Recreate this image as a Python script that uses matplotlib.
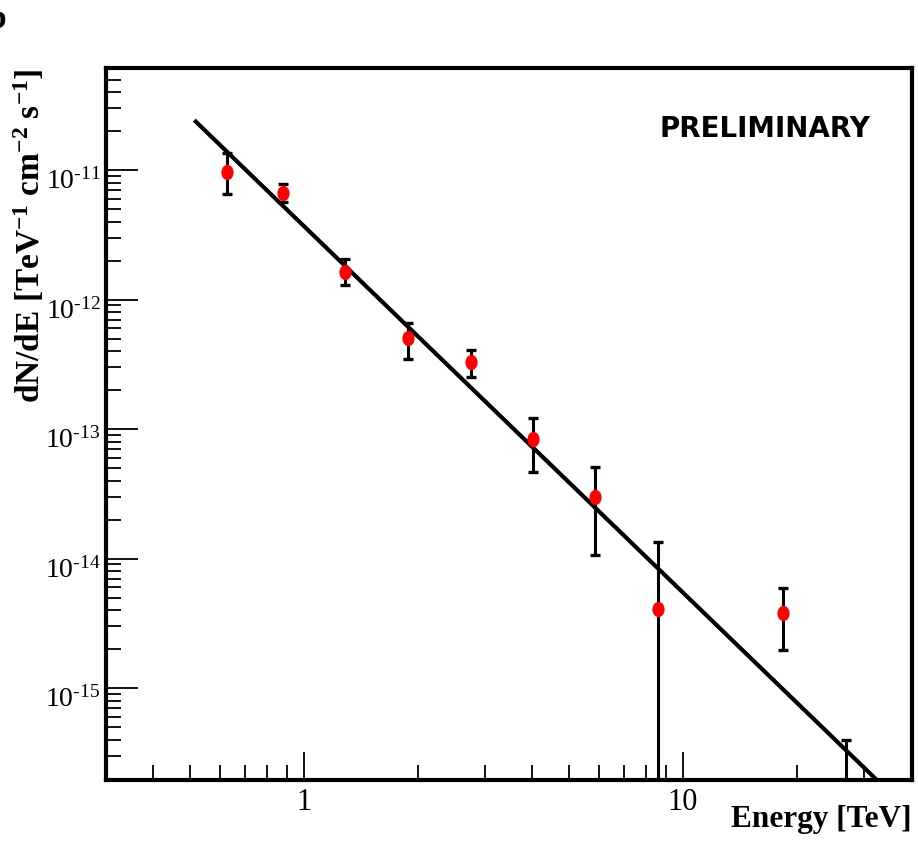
import matplotlib
matplotlib.use("Agg")
import matplotlib.pyplot as plt
import matplotlib.transforms as mtransforms
from matplotlib.path import Path
from matplotlib.ticker import FixedLocator, FixedFormatter, LogLocator, NullFormatter

# ---------------- data ----------------
energy = [0.625, 0.882, 1.283, 1.885, 2.754, 4.013, 5.86, 8.59, 18.4, 26.9]
flux = [9.70e-12, 6.61e-12, 1.64e-12, 5.06e-13, 3.30e-13, 8.38e-14, 2.98e-14, 4.11e-15, 3.83e-15, 1.5e-16]
flux_hi = [1.35e-11, 7.76e-12, 2.06e-12, 6.63e-13, 4.06e-13, 1.21e-13, 5.09e-14, 1.35e-14, 5.97e-15, 3.97e-16]
flux_lo = [6.53e-12, 5.69e-12, 1.30e-12, 3.46e-13, 2.53e-13, 4.69e-14, 1.06e-14, 1.0e-17, 1.98e-15, 1.0e-17]

fit_energy = [0.513, 40.0]
fit_flux = [2.43e-11, 1.08e-16]

xtick_values = [1, 10]
xtick_labels = ["1", "10"]
ytick_values = [1e-15, 1e-14, 1e-13, 1e-12, 1e-11]
ytick_labels = [r"$10^{\text{-15}}$", r"$10^{\text{-14}}$", r"$10^{\text{-13}}$",
                r"$10^{\text{-12}}$", r"$10^{\text{-11}}$"]

xlim = (0.3, 40.2)
ylim = (1.95e-16, 6.14e-11)

# ---------------- style ----------------
plt.rcParams["font.family"] = ["Liberation Serif", "DejaVu Serif"]
plt.rcParams["mathtext.fontset"] = "custom"
plt.rcParams["mathtext.rm"] = "Liberation Serif"
plt.rcParams["mathtext.it"] = "Liberation Serif:italic"
plt.rcParams["mathtext.bf"] = "Liberation Serif:bold"
plt.rcParams["mathtext.default"] = "regular"

fig = plt.figure(figsize=(9.18, 8.6), dpi=100)
W, H = 918, 860
ax = fig.add_axes([106 / W, 1 - 780 / H, (912 - 106) / W, (780 - 68) / H])
ax.set_xscale("log")
ax.set_yscale("log")
ax.set_xlim(*xlim)
ax.set_ylim(*ylim)

# fit line
ax.plot(fit_energy, fit_flux, color="black", lw=3.0, zorder=2, solid_capstyle="butt")

# error bars
yerr_low = [f - l for f, l in zip(flux, flux_lo)]
yerr_high = [h - f for f, h in zip(flux, flux_hi)]
ax.errorbar(energy, flux, yerr=[yerr_low, yerr_high], fmt="none", ecolor="black",
            elinewidth=2.2, capsize=3.8, capthick=2.4, zorder=3)

# ellipse marker (slightly taller than wide)
circ = Path.unit_circle()
ell = Path(circ.vertices * [0.8, 1.0], circ.codes)
ax.plot(energy, flux, linestyle="none", marker=ell, markersize=11, color="#ff0000",
        markeredgewidth=0, zorder=4)

# spines
for s in ax.spines.values():
    s.set_linewidth(3.0)
    s.set_zorder(6)

# ticks
ax.xaxis.set_major_locator(FixedLocator(xtick_values))
ax.xaxis.set_major_formatter(FixedFormatter(xtick_labels))
ax.xaxis.set_minor_locator(LogLocator(base=10, subs=[2, 3, 4, 5, 6, 7, 8, 9], numticks=20))
ax.xaxis.set_minor_formatter(NullFormatter())
ax.yaxis.set_major_locator(FixedLocator(ytick_values))
ax.yaxis.set_major_formatter(FixedFormatter(ytick_labels))
ax.yaxis.set_minor_locator(LogLocator(base=10, subs=[2, 3, 4, 5, 6, 7, 8, 9], numticks=20))
ax.yaxis.set_minor_formatter(NullFormatter())

ax.tick_params(which="both", direction="in", top=False, right=False, color="black")
ax.tick_params(axis="x", which="major", length=20, width=1.3, pad=6, labelsize=22)
ax.tick_params(axis="x", which="minor", length=10.5, width=1.3)
ax.tick_params(axis="y", which="major", length=23, width=1.3, pad=4, labelsize=20)
ax.tick_params(axis="y", which="minor", length=11, width=1.3)

offset = mtransforms.ScaledTranslation(0, -6 / 72, fig.dpi_scale_trans)
for lab in ax.get_yticklabels():
    lab.set_transform(lab.get_transform() + offset)

# axis labels
fig.text(912 / W, 1 - 820 / H, "Energy [TeV]", ha="right", va="center",
         fontsize=22.5, fontweight="bold")
fig.text(30 / W, 1 - 68 / H,
         r"dN/dE [TeV$^{\mathbf{-1}}$ cm$^{\mathbf{-2}}$ s$^{\mathbf{-1}}$]",
         rotation=90, ha="center", va="top", fontsize=24, fontweight="bold")

# annotation
ax.text(765 / W, 1 - 129 / H, "PRELIMINARY", transform=fig.transFigure,
        ha="center", va="center", fontsize=20, fontweight="bold",
        family=["DejaVu Sans"])

# panel letter (cut at the left edge)
fig.text(6 / W, 1 - 20 / H, "b", ha="right", va="center", fontsize=24, fontweight="bold")

fig.savefig("out.png", dpi=100)
